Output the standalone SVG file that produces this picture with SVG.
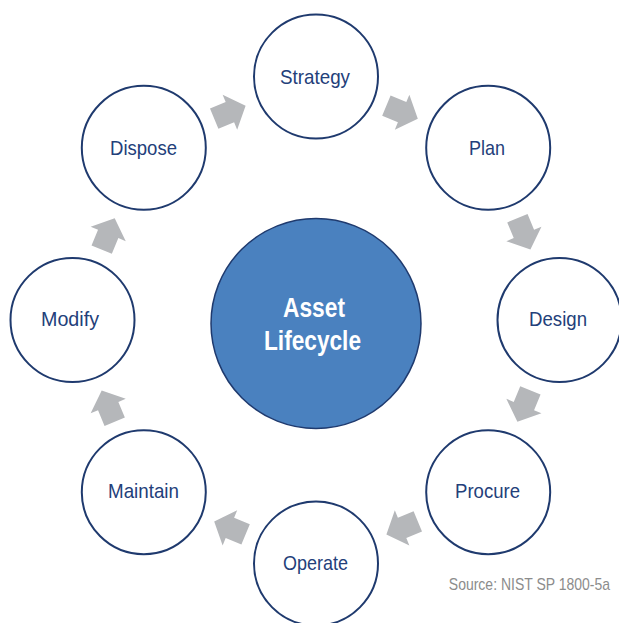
<svg xmlns="http://www.w3.org/2000/svg" width="619" height="623" viewBox="0 0 619 623">
<defs>
<style>
.node{fill:#ffffff;stroke:#1f3a6e;stroke-width:2}
.lbl{font-family:"Liberation Sans Narrow","Liberation Sans",Arial,sans-serif;font-size:21px;fill:#23407a;text-anchor:middle}
.arr{fill:#b5b7ba}
.center{fill:#4a81bf;stroke:#1f3a6e;stroke-width:1.5}
.ctext{font-family:"Liberation Sans Narrow","Liberation Sans",Arial,sans-serif;font-size:27px;font-weight:bold;fill:#ffffff;text-anchor:middle}
.src{font-family:"Liberation Sans",Arial,sans-serif;font-size:16px;fill:#8c8c8c;text-anchor:end}
</style>
<polygon id="arrow" class="arr" points="-17,-11 0,-11 0,-19 17,0 0,19 0,11 -17,11"/>
</defs>
<rect width="619" height="623" fill="#ffffff"/>
<g id="connectors">
<use href="#arrow" transform="translate(229.9,112.2) rotate(-22.5)"/>
<use href="#arrow" transform="translate(402.1,112.2) rotate(22.5)"/>
<use href="#arrow" transform="translate(523.9,233.9) rotate(67.5)"/>
<use href="#arrow" transform="translate(523.9,406.1) rotate(112.5)"/>
<use href="#arrow" transform="translate(402.1,527.9) rotate(157.5)"/>
<use href="#arrow" transform="translate(229.9,527.9) rotate(-157.5)"/>
<use href="#arrow" transform="translate(108.2,406.1) rotate(-112.5)"/>
<use href="#arrow" transform="translate(108.2,233.9) rotate(-67.5)"/>
</g>
<g id="center">
<circle class="center" cx="316" cy="323.5" r="105"/>
<text class="ctext" x="314" y="317" textLength="62" lengthAdjust="spacingAndGlyphs">Asset</text>
<text class="ctext" x="312.5" y="350" textLength="97" lengthAdjust="spacingAndGlyphs">Lifecycle</text>
</g>
<g id="strategy">
<circle class="node" cx="316" cy="76.5" r="62"/>
<text class="lbl" x="315" y="83.5" textLength="70" lengthAdjust="spacingAndGlyphs">Strategy</text>
</g>
<g id="plan">
<circle class="node" cx="488.2" cy="147.8" r="62"/>
<text class="lbl" x="487" y="154.5" textLength="36" lengthAdjust="spacingAndGlyphs">Plan</text>
</g>
<g id="design">
<circle class="node" cx="559.5" cy="320" r="62"/>
<text class="lbl" x="558" y="326" textLength="58" lengthAdjust="spacingAndGlyphs">Design</text>
</g>
<g id="procure">
<circle class="node" cx="488.2" cy="492.2" r="62"/>
<text class="lbl" x="487.5" y="497.5" textLength="65" lengthAdjust="spacingAndGlyphs">Procure</text>
</g>
<g id="operate">
<circle class="node" cx="316" cy="563.5" r="62"/>
<text class="lbl" x="315.5" y="569.5" textLength="65" lengthAdjust="spacingAndGlyphs">Operate</text>
</g>
<g id="maintain">
<circle class="node" cx="143.8" cy="492.2" r="62"/>
<text class="lbl" x="143.5" y="497.5" textLength="71" lengthAdjust="spacingAndGlyphs">Maintain</text>
</g>
<g id="modify">
<circle class="node" cx="72.5" cy="320" r="62"/>
<text class="lbl" x="70" y="326" textLength="58" lengthAdjust="spacingAndGlyphs">Modify</text>
</g>
<g id="dispose">
<circle class="node" cx="143.8" cy="147.8" r="62"/>
<text class="lbl" x="143.5" y="154.5" textLength="67" lengthAdjust="spacingAndGlyphs">Dispose</text>
</g>
<text class="src" transform="translate(610,590) scale(0.875,1)" x="0" y="0">Source: NIST SP 1800-5a</text>
</svg>
